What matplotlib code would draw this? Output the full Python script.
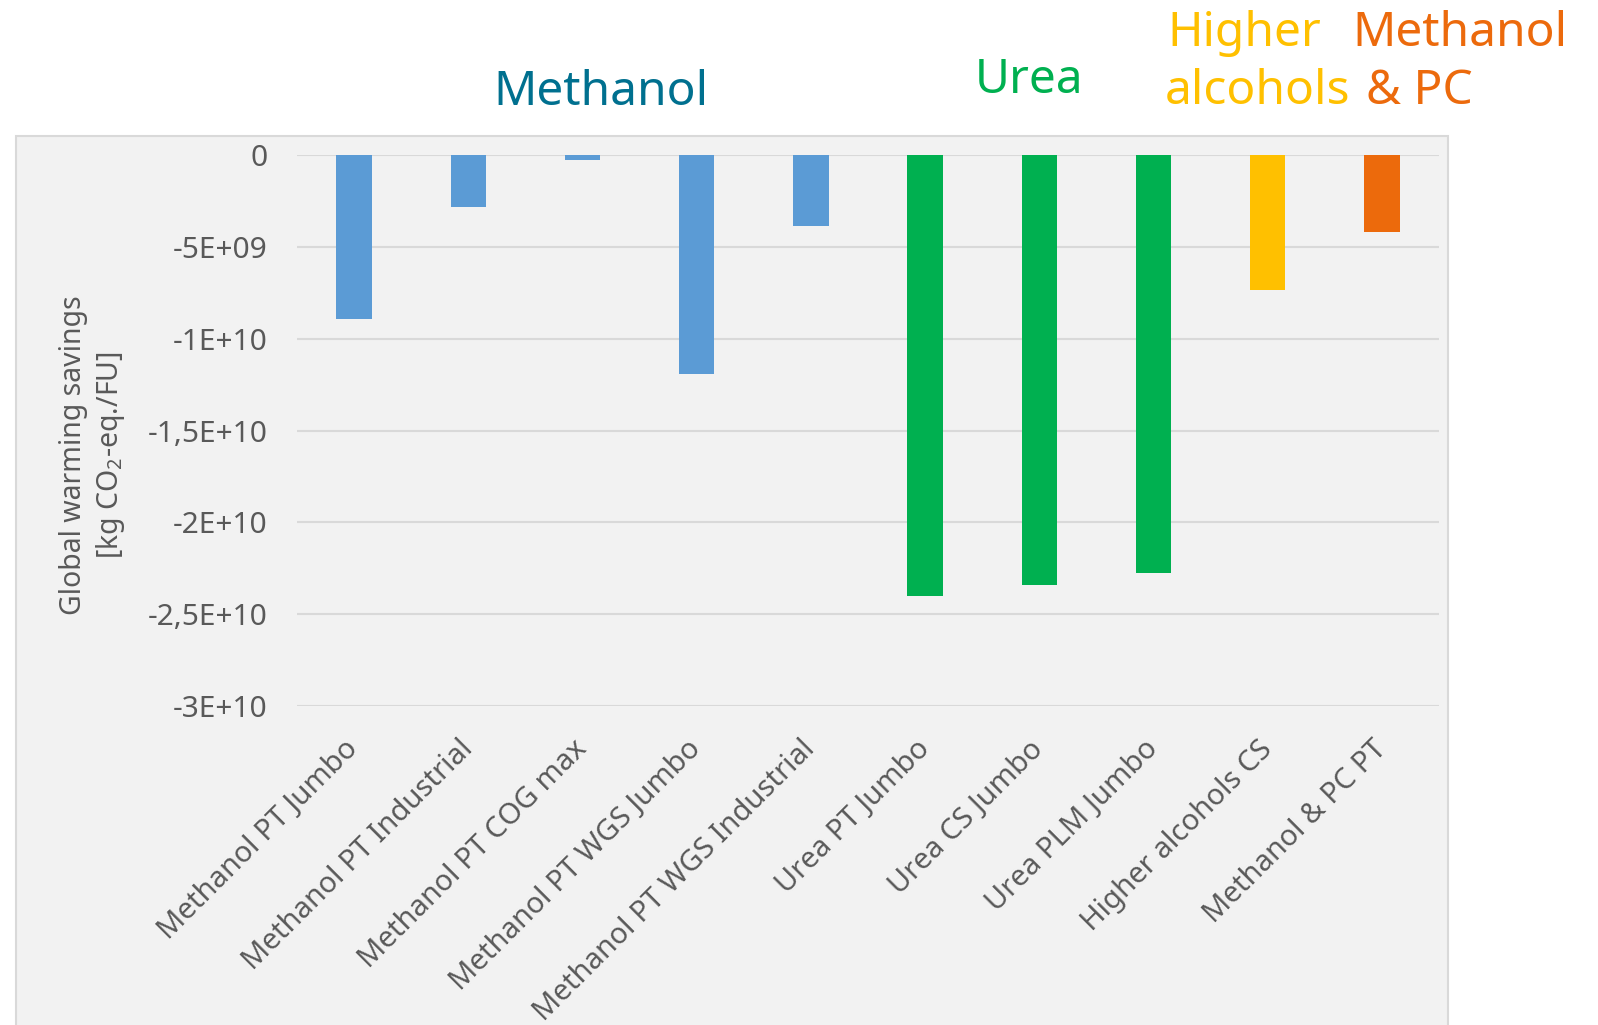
import matplotlib
matplotlib.use("Agg")
import matplotlib.pyplot as plt
from matplotlib.patches import Rectangle

plt.rcParams['font.family'] = ['Noto Sans', 'DejaVu Sans']
plt.rcParams['font.weight'] = 'light'
plt.rcParams['mathtext.fontset'] = 'custom'
plt.rcParams['mathtext.rm'] = 'Noto Sans:light'
plt.rcParams['mathtext.default'] = 'regular'

# data
categories = ["Methanol PT Jumbo", "Methanol PT Industrial", "Methanol PT COG max",
              "Methanol PT WGS Jumbo", "Methanol PT WGS Industrial", "Urea PT Jumbo",
              "Urea CS Jumbo", "Urea PLM Jumbo", "Higher alcohols CS", "Methanol & PC PT"]
savings = [-8.95e9, -2.85e9, -0.27e9, -11.94e9, -3.85e9,
           -24.0e9, -23.4e9, -22.74e9, -7.37e9, -4.19e9]
groups = ["Methanol"] * 5 + ["Urea"] * 3 + ["Higher alcohols", "Methanol & PC"]
yticks = [0, -5e9, -1e10, -1.5e10, -2e10, -2.5e10, -3e10]
ytick_labels = ["0", "-5E+09", "-1E+10", "-1,5E+10", "-2E+10", "-2,5E+10", "-3E+10"]

bar_colors = {"Methanol": "#5b9bd5", "Urea": "#00b050",
              "Higher alcohols": "#ffc000", "Methanol & PC": "#ec6a0c"}
title_colors = {"Methanol": "#00708f", "Urea": "#00b050",
                "Higher alcohols": "#ffc000", "Methanol & PC": "#ec6a0c"}
grey = "#595959"

W, H = 1598, 1025
fig = plt.figure(figsize=(W / 100, H / 100), dpi=100)

def fx(x):
    return x / W

def fy(y):
    return 1 - y / H

# grey chart panel
fig.patches.append(Rectangle((fx(16), -0.01), fx(1448) - fx(16), fy(136) + 0.01,
                             transform=fig.transFigure, facecolor="#f2f2f2",
                             edgecolor="#d9d9d9", lw=1.5, zorder=-1))

ax = fig.add_axes([fx(297), fy(706), fx(1439) - fx(297), fy(155) - fy(706)])
ax.set_facecolor("none")

x = list(range(len(categories)))
ax.bar(x, savings, width=0.31, color=[bar_colors[g] for g in groups], zorder=3)

ax.set_xlim(-0.5, len(categories) - 0.5)
ax.set_ylim(-3e10, 0)
ax.set_yticks(yticks)
ax.set_yticklabels(ytick_labels)
ax.set_xticks(x)
ax.set_xticklabels(categories, rotation=45, ha="right", va="center",
                   rotation_mode="anchor")
ax.tick_params(axis="y", length=0, pad=21, labelsize=21.5, labelcolor=grey)
ax.tick_params(axis="x", length=0, pad=28, labelsize=21, labelcolor=grey)
ax.grid(axis="y", color="#d9d9d9", lw=1.5, zorder=0)
ax.set_axisbelow(True)
for s in ax.spines.values():
    s.set_visible(False)

fig.text(fx(93), fy(455), "Global warming savings\n[kg CO$_2$-eq./FU]",
         rotation=90, ha="center", va="center", multialignment="center",
         fontsize=20.5, color=grey, linespacing=1.22)

# group headings above the plot
tsize = 34.5
fig.text(fx(601), fy(105), "Methanol", ha="center", va="baseline",
         fontsize=tsize, color=title_colors["Methanol"])
fig.text(fx(1029), fy(93), "Urea", ha="center", va="baseline",
         fontsize=tsize, color=title_colors["Urea"])
fig.text(fx(1167), fy(46), "Higher", ha="left", va="baseline",
         fontsize=tsize, color=title_colors["Higher alcohols"])
fig.text(fx(1165), fy(104), "alcohols", ha="left", va="baseline",
         fontsize=tsize, color=title_colors["Higher alcohols"])
fig.text(fx(1352), fy(46), "Methanol", ha="left", va="baseline",
         fontsize=tsize, color=title_colors["Methanol & PC"])
fig.text(fx(1366), fy(104), "& PC", ha="left", va="baseline",
         fontsize=tsize, color=title_colors["Methanol & PC"])

fig.savefig("out.png", dpi=100, facecolor="white")
